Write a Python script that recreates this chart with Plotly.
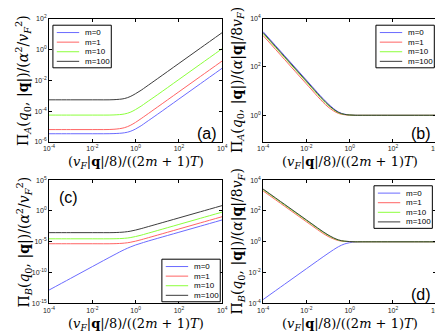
import plotly.graph_objects as go
from plotly.subplots import make_subplots

W, H = 443, 333

# x axis: (v_F|q|/8)/((2m+1)T)
x_vals = [1e-4, 1e-3, 1e-2, 0.1, 0.3, 0.56, 1, 1.8, 3, 10, 1e2, 1e3, 1e4]

m_labels = ["m=0", "m=1", "m=10", "m=100"]
line_colors = ["#6b6bff", "#ff6464", "#8cff3c", "#3c3c3c"]

# (a) Pi_A / (alpha^2 / v_F^2)
a_m0 = [3.39e-6, 3.39e-6, 3.39e-6, 3.47e-6, 3.89e-6, 4.79e-6, 6.92e-6, 1.12e-5, 1.86e-5, 6.03e-5, 6.03e-4, 6.03e-3, 6.03e-2]
a_m1 = [6.31e-6, 6.31e-6, 6.31e-6, 6.61e-6, 8.32e-6, 1.17e-5, 1.86e-5, 3.24e-5, 5.37e-5, 1.78e-4, 1.78e-3, 1.78e-2, 0.178]
a_m10 = [5.50e-5, 5.50e-5, 5.50e-5, 5.62e-5, 6.46e-5, 8.32e-5, 1.26e-4, 2.09e-4, 3.47e-4, 1.12e-3, 1.12e-2, 0.112, 1.12]
a_m100 = [5.37e-4, 5.37e-4, 5.37e-4, 5.50e-4, 6.46e-4, 8.71e-4, 1.35e-3, 2.24e-3, 3.72e-3, 1.23e-2, 0.123, 1.23, 12.3]

# (b) Pi_A / (alpha|q|/8v_F)
b_m0 = [2880, 288, 28.8, 3.05, 1.38, 1.12, 1.04, 1.01, 1.0, 1.0, 1.0, 1.0, 1.0]
b_m1 = [2000, 200, 20.0, 2.23, 1.20, 1.06, 1.02, 1.0, 1.0, 1.0, 1.0, 1.0, 1.0]
b_m10 = [2400, 240, 24.0, 2.60, 1.28, 1.09, 1.03, 1.0, 1.0, 1.0, 1.0, 1.0, 1.0]
b_m100 = [2630, 263, 26.3, 2.81, 1.33, 1.10, 1.03, 1.0, 1.0, 1.0, 1.0, 1.0, 1.0]

# (c) Pi_B / (alpha^2 / v_F^2)
c_m0 = [1.48e-13, 1.17e-11, 9.33e-10, 7.24e-8, 5.25e-7, 1.38e-6, 3.02e-6, 5.82e-6, 1.02e-5, 3.47e-5, 3.47e-4, 3.47e-3, 0.0347]
c_m1 = [4.79e-6, 4.79e-6, 4.79e-6, 4.9e-6, 6.03e-6, 8.13e-6, 1.26e-5, 2.14e-5, 3.55e-5, 1.17e-4, 1.17e-3, 0.0117, 0.117]
c_m10 = [3.02e-5, 3.02e-5, 3.02e-5, 3.09e-5, 3.63e-5, 4.68e-5, 7.08e-5, 1.17e-4, 1.95e-4, 6.46e-4, 6.46e-3, 0.0646, 0.646]
c_m100 = [3.02e-4, 3.02e-4, 3.02e-4, 3.09e-4, 3.8e-4, 5.13e-4, 7.94e-4, 1.35e-3, 2.24e-3, 7.41e-3, 0.0741, 0.741, 7.41]

# (d) Pi_B / (alpha|q|/8v_F)
d_m0 = [1.78e-4, 1.78e-3, 1.78e-2, 0.175, 0.473, 0.707, 0.871, 0.953, 0.984, 1.0, 1.0, 1.0, 1.0]
d_m1 = [2000, 200, 20.0, 2.23, 1.20, 1.06, 1.02, 1.0, 1.0, 1.0, 1.0, 1.0, 1.0]
d_m10 = [2400, 240, 24.0, 2.60, 1.28, 1.09, 1.03, 1.0, 1.0, 1.0, 1.0, 1.0, 1.0]
d_m100 = [2630, 263, 26.3, 2.81, 1.33, 1.10, 1.03, 1.0, 1.0, 1.0, 1.0, 1.0, 1.0]

x_ticks = [-4, -2, 0, 2, 4]
y_ticks = {
    "a": [-6, -4, -2, 0, 2],
    "b": [0, 2, 4],
    "c": [-15, -10, -5, 0, 5],
    "d": [-4, -2, 0, 2, 4],
}
y_ranges = {"a": [-6, 2], "b": [-1.1, 4], "c": [-15, 5], "d": [-4, 4]}

x_title = "(<i>v<sub>F</sub></i>|<b>q</b>|/8)/((2<i>m</i> + 1)<i>T</i>)"
y_titles = {
    "a": "Π<sub><i>A</i></sub>(<i>q</i><sub>0</sub>, |<b>q</b>|)/(<i>α</i><sup>2</sup>/<i>v</i><sub><i>F</i></sub><sup>2</sup>)",
    "b": "Π<sub><i>A</i></sub>(<i>q</i><sub>0</sub>, |<b>q</b>|)/(<i>α</i>|<b>q</b>|/8<i>v<sub>F</sub></i>)",
    "c": "Π<sub><i>B</i></sub>(<i>q</i><sub>0</sub>, |<b>q</b>|)/(<i>α</i><sup>2</sup>/<i>v</i><sub><i>F</i></sub><sup>2</sup>)",
    "d": "Π<sub><i>B</i></sub>(<i>q</i><sub>0</sub>, |<b>q</b>|)/(<i>α</i>|<b>q</b>|/8<i>v<sub>F</sub></i>)",
}

def tick_text(v):
    return "10<sup>%d</sup>" % v

def px(x):
    return x / W

def py(y):
    return 1 - y / H

# pixel boxes of the four axes: left, right, top, bottom
boxes = {
    "a": (36, 214, 6.7, 132.7),
    "b": (256, 434, 6.7, 132.7),
    "c": (36, 214, 171.7, 297.7),
    "d": (256, 434, 171.7, 297.7),
}

fig = make_subplots(rows=2, cols=2)

panels = [
    ("a", 1, 1, [a_m0, a_m1, a_m10, a_m100]),
    ("b", 1, 2, [b_m0, b_m1, b_m10, b_m100]),
    ("c", 2, 1, [c_m0, c_m1, c_m10, c_m100]),
    ("d", 2, 2, [d_m0, d_m1, d_m10, d_m100]),
]

tickfont = dict(family="Liberation Sans", size=7, color="#222")
axis_common = dict(type="log", ticks="inside", ticklen=3, tickcolor="black",
                   showline=True, linecolor="black", linewidth=1, mirror="ticks",
                   showgrid=False, zeroline=False, tickfont=tickfont)

for key, r, c, series in panels:
    for name, col, y in zip(m_labels, line_colors, series):
        fig.add_trace(go.Scatter(x=x_vals, y=y, mode="lines", name=name,
                                 line=dict(color=col, width=1, shape="spline"),
                                 showlegend=False), row=r, col=c)
    left, right, top, bottom = boxes[key]
    fig.update_xaxes(axis_common, range=[-4, 4], domain=[px(left), px(right)],
                     tickvals=[10 ** t for t in x_ticks],
                     ticktext=[tick_text(t) for t in x_ticks], row=r, col=c)
    fig.update_yaxes(axis_common, range=y_ranges[key], domain=[py(bottom), py(top)],
                     tickvals=[10 ** t for t in y_ticks[key]],
                     ticktext=[tick_text(t) for t in y_ticks[key]], row=r, col=c)

    # axis titles
    fig.add_annotation(xref="paper", yref="paper", x=px((left + right) / 2), y=py(bottom + 21.5),
                       text=x_title, showarrow=False, xanchor="center", yanchor="middle",
                       font=dict(family="DejaVu Serif", size=13, color="black"))
    fig.add_annotation(xref="paper", yref="paper", x=px(left - 26), y=py((top + bottom) / 2),
                       text=y_titles[key], showarrow=False, textangle=-90,
                       xanchor="center", yanchor="middle",
                       font=dict(family="DejaVu Serif", size=14, color="black"))

# panel letters
letters = {"a": (198, 124), "b": (418, 124), "c": (56, 189), "d": (418, 289)}
for key, (lx, ly) in letters.items():
    fig.add_annotation(xref="paper", yref="paper", x=px(lx), y=py(ly), text="(%s)" % key,
                       showarrow=False, xanchor="center", yanchor="middle",
                       font=dict(family="Liberation Sans", size=16, color="black"))

# legend boxes, drawn like the original ones
legend_pos = {"a": (40, 13.5), "b": (372, 13.5), "c": (152, 252.5), "d": (370, 177.5)}
for key, (lleft, ltop) in legend_pos.items():
    fig.add_shape(type="rect", xref="paper", yref="paper", layer="above",
                  x0=px(lleft), x1=px(lleft + 60), y0=py(ltop), y1=py(ltop + 43.5),
                  line=dict(color="black", width=1), fillcolor="white")
    for i, (name, col) in enumerate(zip(m_labels, line_colors)):
        yy = ltop + 7.5 + i * 9.8
        fig.add_shape(type="line", xref="paper", yref="paper", layer="above",
                      x0=px(lleft + 4), x1=px(lleft + 27), y0=py(yy), y1=py(yy),
                      line=dict(color=col, width=1))
        fig.add_annotation(xref="paper", yref="paper", x=px(lleft + 31), y=py(yy), text=name,
                           showarrow=False, xanchor="left", yanchor="middle",
                           font=dict(family="Liberation Sans", size=8, color="black"))

fig.update_layout(width=W, height=H, margin=dict(l=0, r=0, t=0, b=0),
                  paper_bgcolor="white", plot_bgcolor="white", showlegend=False)

fig.write_html("out.html")
